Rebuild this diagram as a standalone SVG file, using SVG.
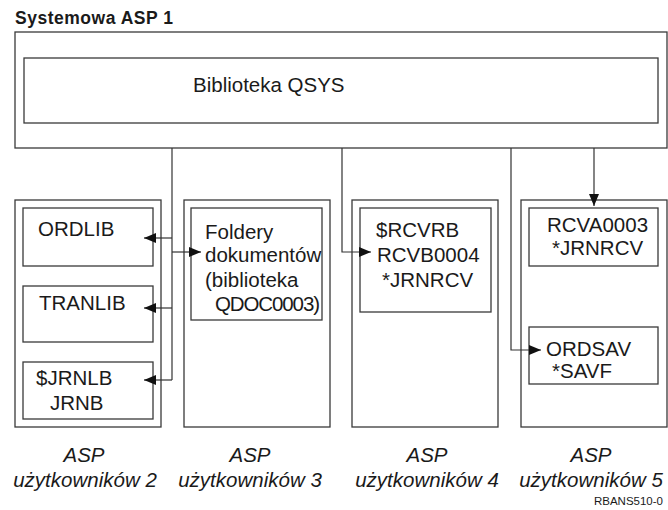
<svg xmlns="http://www.w3.org/2000/svg" width="668" height="510" viewBox="0 0 668 510">
<defs>
<style>
.box{fill:#fff;stroke:#3a3a3a;stroke-width:1.3}
.t{font-family:"Liberation Sans",Arial,sans-serif;font-size:20.5px;fill:#1a1a1a}
.lbl{font-family:"Liberation Sans",Arial,sans-serif;font-size:20.5px;font-style:italic;fill:#1a1a1a;text-anchor:middle}
.title{font-family:"Liberation Sans",Arial,sans-serif;font-size:17.5px;font-weight:bold;fill:#1a1a1a}
.small{font-family:"Liberation Sans",Arial,sans-serif;font-size:11.5px;fill:#1a1a1a;text-anchor:end}
.c{fill:none;stroke:#333;stroke-width:1.2}
.a{marker-end:url(#arr)}
</style>
<marker id="arr" markerUnits="userSpaceOnUse" markerWidth="13" markerHeight="11" refX="12" refY="5" orient="auto">
<path d="M0,0 L12,5 L0,10 Z" fill="#111"/>
</marker>
</defs>
<rect width="668" height="510" fill="#fff"/>
<text class="title" x="15" y="24" textLength="158">Systemowa ASP 1</text>
<g id="asp1">
<rect class="box" x="15" y="32" width="652" height="116"/>
</g>
<g id="qsys">
<rect class="box" x="24" y="58" width="634" height="65"/>
<text class="t" x="193" y="92">Biblioteka QSYS</text>
</g>
<g id="asp2">
<rect class="box" x="15" y="200" width="146" height="227"/>
</g>
<g id="asp3">
<rect class="box" x="184" y="200" width="146" height="227"/>
</g>
<g id="asp4">
<rect class="box" x="352" y="200" width="146" height="227"/>
</g>
<g id="asp5">
<rect class="box" x="521" y="200" width="146" height="227"/>
</g>
<g id="ordlib">
<rect class="box" x="23" y="208" width="130" height="58"/>
<text class="t" x="38" y="236">ORDLIB</text>
</g>
<g id="tranlib">
<rect class="box" x="23" y="286" width="130" height="56"/>
<text class="t" x="39" y="310">TRANLIB</text>
</g>
<g id="jrnlb">
<rect class="box" x="23" y="362" width="130" height="57"/>
<text class="t" x="36" y="385">$JRNLB</text>
<text class="t" x="50" y="410">JRNB</text>
</g>
<g id="foldery">
<rect class="box" x="191" y="208" width="131" height="112"/>
<text class="t" x="205" y="239">Foldery</text>
<text class="t" x="205" y="262">dokumentów</text>
<text class="t" x="205" y="287">(biblioteka</text>
<text class="t" x="215" y="311" textLength="105">QDOC0003)</text>
</g>
<g id="rcvrb">
<rect class="box" x="360" y="208" width="131" height="104"/>
<text class="t" x="376" y="237">$RCVRB</text>
<text class="t" x="377" y="262">RCVB0004</text>
<text class="t" x="382" y="287">*JRNRCV</text>
</g>
<g id="rcva">
<rect class="box" x="529" y="208" width="129" height="58"/>
<text class="t" x="547" y="232">RCVA0003</text>
<text class="t" x="552" y="255">*JRNRCV</text>
</g>
<g id="ordsav">
<rect class="box" x="529" y="327" width="129" height="57"/>
<text class="t" x="546" y="356">ORDSAV</text>
<text class="t" x="552" y="378">*SAVF</text>
</g>
<g id="connectors">
<path class="c" d="M172,148 V380"/>
<path class="c a" d="M172,238 H144"/>
<path class="c a" d="M172,252 H201"/>
<path class="c a" d="M172,308 H144"/>
<path class="c a" d="M172,380 H144"/>
<path class="c a" d="M342,148 V252 H371"/>
<path class="c a" d="M511,148 V350 H541"/>
<path class="c a" d="M594,148 V206"/>
</g>
<g id="labels">
<text class="lbl" x="84" y="462">ASP</text>
<text class="lbl" x="85" y="487">użytkowników 2</text>
<text class="lbl" x="250" y="462">ASP</text>
<text class="lbl" x="250" y="487">użytkowników 3</text>
<text class="lbl" x="427" y="462">ASP</text>
<text class="lbl" x="427" y="487">użytkowników 4</text>
<text class="lbl" x="591" y="462">ASP</text>
<text class="lbl" x="591" y="487">użytkowników 5</text>
</g>
<text class="small" x="663" y="505">RBANS510-0</text>
</svg>
